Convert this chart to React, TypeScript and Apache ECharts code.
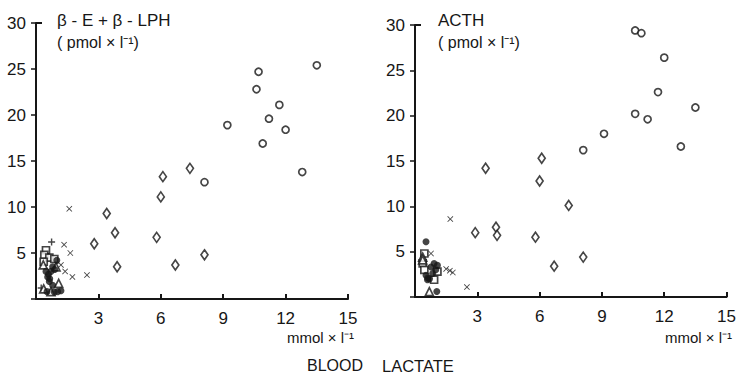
import React, { useEffect, useRef } from "react";
import * as echarts from "echarts";

// ---- Data: [blood lactate (mmol/l), hormone (pmol/l)] ----
// Left panel: beta-E + beta-LPH
const leftCircles: number[][] = [
  [8.1, 12.7], [9.2, 18.9], [10.7, 24.7], [10.6, 22.8], [11.7, 21.1], [11.2, 19.6],
  [12.0, 18.4], [10.9, 16.9], [12.8, 13.8], [13.5, 25.4],
];
const leftDiamonds: number[][] = [
  [6.1, 13.3], [7.4, 14.2], [6.0, 11.1], [3.4, 9.3], [3.8, 7.2], [2.8, 6.0],
  [5.8, 6.7], [3.9, 3.5], [6.7, 3.7], [8.1, 4.8],
];
const leftCrosses: number[][] = [
  [1.6, 9.8], [1.35, 5.9], [1.65, 5.0], [1.2, 3.7], [1.4, 3.0], [1.75, 2.4], [2.45, 2.6],
];
const leftPlus: number[][] = [[0.75, 6.2], [0.25, 1.2]];
const leftSquares: number[][] = [
  [0.48, 5.3], [0.4, 4.8], [0.64, 4.5], [0.88, 4.35], [0.37, 4.05],
];
const leftTriangles: number[][] = [
  [0.35, 3.7], [0.96, 3.5], [1.09, 1.7], [0.37, 1.1], [0.72, 0.8],
];
const leftDots: number[][] = [
  [0.48, 3.0], [0.56, 2.4], [0.64, 1.9], [0.8, 3.5], [0.72, 3.0], [0.8, 1.5],
  [1.04, 0.8], [1.2, 0.9], [0.88, 0.75], [0.53, 0.8], [1.0, 4.2], [0.6, 2.7],
  [0.9, 3.2], [0.66, 2.2],
];

// Right panel: ACTH
const rightCircles: number[][] = [
  [10.6, 29.4], [10.9, 29.1], [12.0, 26.4], [11.7, 22.6], [13.5, 20.9], [10.6, 20.2],
  [11.2, 19.6], [9.1, 18.0], [8.1, 16.2], [12.8, 16.6],
];
const rightDiamonds: number[][] = [
  [3.4, 14.2], [6.1, 15.3], [6.0, 12.8], [7.4, 10.1], [2.9, 7.1], [3.9, 7.7],
  [3.95, 6.8], [5.8, 6.6], [6.7, 3.4], [8.1, 4.4],
];
const rightCrosses: number[][] = [
  [1.7, 8.6], [2.5, 1.1], [1.5, 3.1], [1.68, 2.9], [1.82, 2.7], [0.77, 4.8],
];
const rightSquares: number[][] = [
  [0.45, 4.8], [0.37, 3.7], [1.08, 2.8], [0.45, 3.0], [0.92, 1.9],
];
const rightTriangles: number[][] = [[0.37, 4.4], [0.37, 4.1], [0.69, 0.6]];
const rightDots: number[][] = [
  [0.53, 6.1], [0.92, 3.7], [1.08, 3.5], [0.77, 3.3], [0.53, 2.4], [0.61, 2.1],
  [0.85, 2.6], [1.0, 3.0], [1.05, 0.6], [0.7, 2.0], [0.6, 1.9],
];

const yTicks = [0, 5, 10, 15, 20, 25, 30];
const xTicks = [0, 3, 6, 9, 12, 15];

const FONT = "Liberation Sans";
const INK = "#161616";
const CROSS = "path://M1,0L5,4L9,0L10,1L6,5L10,9L9,10L5,6L1,10L0,9L4,5L0,1Z";
const PLUS = "path://M4,0H6V4H10V6H6V10H4V6H0V4H4Z";

const hollow = { color: "#fff", borderColor: INK, borderWidth: 1.7 };
const solid = { color: INK };

function panelSeries(idx: number, sets: { data: number[][]; symbol: string; size: any; style: any }[]) {
  return sets.map((s) => ({
    type: "scatter",
    xAxisIndex: idx,
    yAxisIndex: idx,
    data: s.data,
    symbol: s.symbol,
    symbolSize: s.size,
    itemStyle: s.style,
    silent: true,
  }));
}

function xAxis(idx: number) {
  return {
    type: "value",
    gridIndex: idx,
    min: xTicks[0],
    max: xTicks[xTicks.length - 1],
    interval: 3,
    axisLine: { show: true, lineStyle: { color: INK, width: 2 } },
    axisTick: { show: true, inside: true, length: 5, lineStyle: { color: INK, width: 2 } },
    splitLine: { show: false },
    axisLabel: {
      fontFamily: FONT,
      fontSize: 17,
      color: INK,
      margin: 11,
      formatter: (v: number) => (v === 0 ? "" : String(v)),
    },
  };
}

function yAxis(idx: number) {
  return {
    type: "value",
    gridIndex: idx,
    min: yTicks[0],
    max: yTicks[yTicks.length - 1],
    interval: 5,
    axisLine: { show: true, lineStyle: { color: INK, width: 2 } },
    axisTick: { show: true, inside: false, length: 5, lineStyle: { color: INK, width: 1.5 } },
    splitLine: { show: false },
    axisLabel: {
      fontFamily: FONT,
      fontSize: 17,
      color: INK,
      margin: 10,
      formatter: (v: number) => (v === 0 ? "" : String(v)),
    },
  };
}

export default function App() {
  const ref = useRef<HTMLDivElement>(null);
  useEffect(() => {
    if (!ref.current) return;
    const chart = echarts.init(ref.current, null, { renderer: "svg" });
    const textStyle = (size: number) => ({ fill: INK, font: `${size}px "${FONT}"` });
    chart.setOption({
      animation: false,
      backgroundColor: "#fff",
      grid: [
        { left: 36, top: 23, width: 312, height: 276 },
        { left: 415, top: 25, width: 313, height: 272 },
      ],
      xAxis: [xAxis(0), xAxis(1)],
      yAxis: [yAxis(0), yAxis(1)],
      series: [
        ...panelSeries(0, [
          { data: leftCircles, symbol: "circle", size: 7, style: hollow },
          { data: leftDiamonds, symbol: "diamond", size: [7, 10], style: hollow },
          { data: leftCrosses, symbol: CROSS, size: 6, style: solid },
          { data: leftPlus, symbol: PLUS, size: 7, style: solid },
          { data: leftSquares, symbol: "rect", size: 7, style: hollow },
          { data: leftTriangles, symbol: "triangle", size: 8, style: hollow },
          { data: leftDots, symbol: "circle", size: 7, style: solid },
        ]),
        ...panelSeries(1, [
          { data: rightCircles, symbol: "circle", size: 7, style: hollow },
          { data: rightDiamonds, symbol: "diamond", size: [7, 10], style: hollow },
          { data: rightCrosses, symbol: CROSS, size: 6, style: solid },
          { data: rightSquares, symbol: "rect", size: 7, style: hollow },
          { data: rightTriangles, symbol: "triangle", size: 8, style: hollow },
          { data: rightDots, symbol: "circle", size: 7, style: solid },
        ]),
      ],
      graphic: [
        { type: "line", shape: { x1: 36, y1: 23, x2: 42, y2: 23 }, style: { stroke: INK, lineWidth: 2 } },
        { type: "line", shape: { x1: 415, y1: 25, x2: 421, y2: 25 }, style: { stroke: INK, lineWidth: 2 } },
        { type: "text", left: 57, top: 12, style: { text: "β - E + β - LPH", ...textStyle(17) } },
        { type: "text", left: 57, top: 34, style: { text: "( pmol × l⁻¹)", ...textStyle(16) } },
        { type: "text", left: 438, top: 12, style: { text: "ACTH", ...textStyle(17) } },
        { type: "text", left: 438, top: 34, style: { text: "( pmol × l⁻¹)", ...textStyle(16) } },
        { type: "text", left: 287, top: 330, style: { text: "mmol × l⁻¹", ...textStyle(15) } },
        { type: "text", left: 665, top: 330, style: { text: "mmol × l⁻¹", ...textStyle(15) } },
        { type: "text", left: 307, top: 357, style: { text: "BLOOD", ...textStyle(16) } },
        { type: "text", left: 382, top: 357, style: { text: "LACTATE", ...textStyle(16.5) } },
      ],
    });
    return () => chart.dispose();
  }, []);
  return (
    <div
      ref={ref}
      style={{ position: "absolute", left: 0, top: 0, width: 739, height: 373, background: "#fff" }}
    />
  );
}
